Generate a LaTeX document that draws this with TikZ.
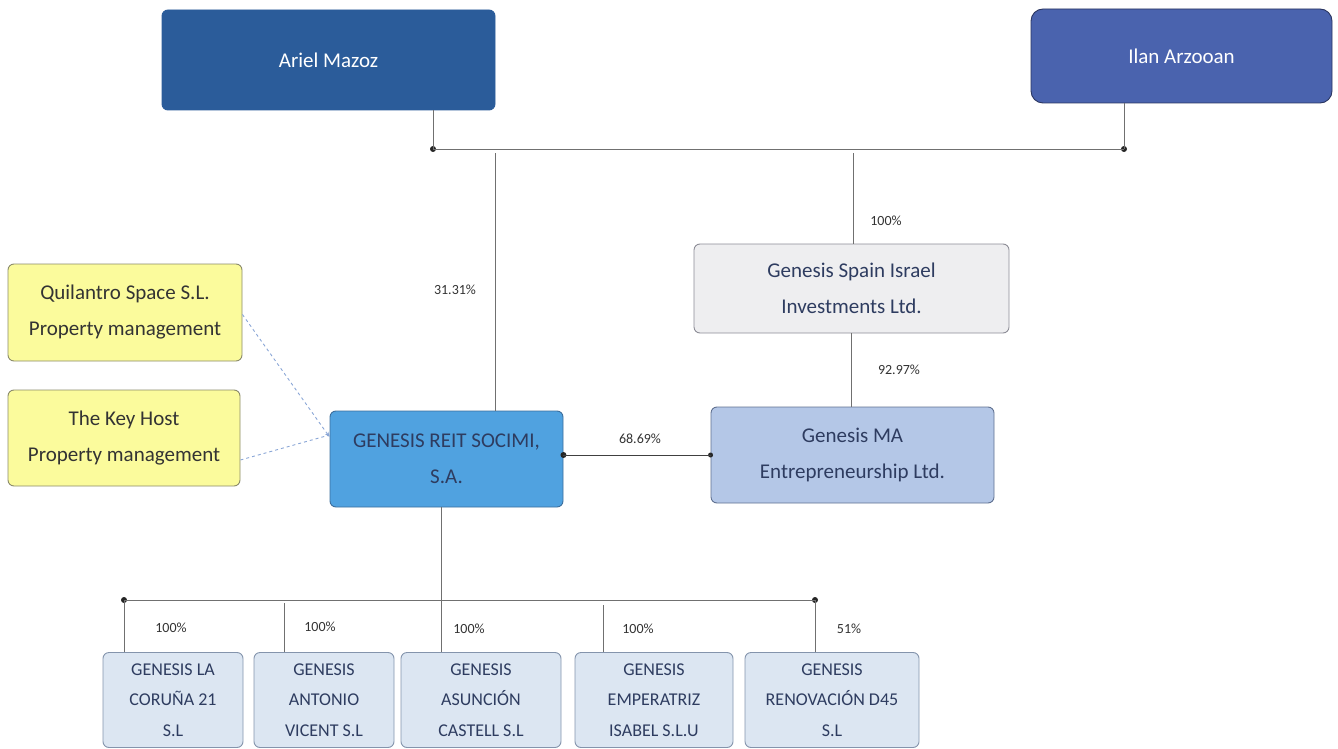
\documentclass[tikz,border=0pt]{standalone}
\usepackage{fontspec}
\setmainfont{Carlito}
\usetikzlibrary{arrows.meta}
\definecolor{arielfill}{HTML}{2B5C9A}
\definecolor{ilanfill}{HTML}{4A63AE}
\definecolor{ilanline}{HTML}{2A3560}
\definecolor{spainfill}{HTML}{EEEEF0}
\definecolor{spainline}{HTML}{8C8C96}
\definecolor{mafill}{HTML}{B4C7E7}
\definecolor{maline}{HTML}{5F7090}
\definecolor{reitfill}{HTML}{50A2E0}
\definecolor{reitline}{HTML}{3C6E9C}
\definecolor{yelfill}{HTML}{FBFB9C}
\definecolor{yelline}{HTML}{8A8A6A}
\definecolor{kidfill}{HTML}{DCE6F2}
\definecolor{kidline}{HTML}{8494AC}
\definecolor{navytext}{HTML}{2E3C60}
\definecolor{conn}{HTML}{707070}
\definecolor{dashc}{HTML}{8AA6D6}
\tikzset{
  box/.style={draw, rounded corners=6pt, align=center, inner sep=0pt, line width=0.9pt, font=\fontsize{21}{36}\selectfont},
  person/.style={box, text=white},
  kid/.style={box, fill=kidfill, draw=kidline, text=navytext, minimum width=140pt, minimum height=95pt, font=\fontsize{18}{30.5}\selectfont},
  lbl/.style={font=\fontsize{14}{16}\selectfont, text=black!80, inner sep=0pt},
  conline/.style={draw=conn, line width=1pt},
  dot/.style={circle, fill=black!85, inner sep=0pt, minimum size=6pt},
}
\begin{document}
\begin{tikzpicture}[x=1pt,y=-1pt]
\useasboundingbox (0,0) rectangle (1338,749);
% top persons
\node[person, fill=arielfill, draw=arielfill, minimum width=333pt, minimum height=100pt, rounded corners=6pt] (ariel) at (328.5,60) {Ariel Mazoz};
\node[person, fill=ilanfill, draw=ilanline, minimum width=301pt, minimum height=94pt, rounded corners=12pt] (ilan) at (1181.5,56) {Ilan Arzooan};
% junctions
\coordinate (jA) at (433,149);
\coordinate (jI) at (1124,149);
\node[dot] (dA) at (jA) {};
\node[dot] (dI) at (jI) {};
% middle boxes
\node[box, fill=spainfill, draw=spainline, text=navytext, minimum width=315pt, minimum height=89pt] (spain) at (851.5,288.5) {Genesis Spain Israel\\Investments Ltd.};
\node[box, fill=mafill, draw=maline, text=navytext, minimum width=283pt, minimum height=96pt] (ma) at (852.5,455) {Genesis MA\\Entrepreneurship Ltd.};
\node[box, fill=reitfill, draw=reitline, text=navytext, minimum width=233pt, minimum height=96pt] (reit) at (446.5,459) {GENESIS REIT SOCIMI,\\S.A.};
% yellow boxes
\node[box, fill=yelfill, draw=yelline, text=black!80, minimum width=234pt, minimum height=97pt] (quil) at (125,312.5) {Quilantro Space S.L.\\Property management};
\node[box, fill=yelfill, draw=yelline, text=black!80, minimum width=232pt, minimum height=96pt] (key) at (124,438) {The Key Host\\Property management};
% children
\node[kid] (k1) at (173,700) {GENESIS LA\\CORUÑA 21\\S.L};
\node[kid] (k2) at (324,700) {GENESIS\\ANTONIO\\VICENT S.L};
\node[kid, minimum width=160pt] (k3) at (481,700) {GENESIS\\ASUNCIÓN\\CASTELL S.L};
\node[kid, minimum width=158pt] (k4) at (654,700) {GENESIS\\EMPERATRIZ\\ISABEL S.L.U};
\node[kid, minimum width=174pt] (k5) at (832,700) {GENESIS\\RENOVACIÓN D45\\S.L};
% top connectors
\draw[conline] (ariel.south -| jA) -- (dA.center);
\draw[conline] (ilan.south -| jI) -- (dI.center);
\draw[conline] (dA.center) -- (dI.center);
\draw[conline] (495,153) -- (reit.north -| 495,0);
\draw[conline] (853,153) -- (spain.north -| 853,0);
\draw[conline] (spain.south) -- (ma.north -| spain.south);
% MA to REIT
\node[dot] (dR) at (reit.east |- ma.west) {};
\node[dot, minimum size=5pt] (dM) at (ma.west) {};
\draw[conline, draw=black!75] (dM.center) -- (dR.center);
% dashed links
\draw[draw=dashc, dashed, line width=0.9pt, -{Stealth[length=5pt,width=4pt]}] (quil.east) ++(0,2) -- (reit.west |- 0,437);
\draw[draw=dashc, dashed, line width=0.9pt] (key.east) ++(0,22) -- (reit.west |- 0,435);
% bottom bus
\coordinate (bL) at (124,600);
\coordinate (bR) at (815,600);
\node[dot] (dL) at (bL) {};
\node[dot] (dRt) at (bR) {};
\draw[conline] (reit.south -| 441,0) -- (441,600);
\draw[conline] (dL.center) -- (dRt.center);
\draw[conline] (dL.center) -- (k1.north -| dL);
\draw[conline] (284,603) -- (k2.north -| 284,0);
\draw[conline] (441,600) -- (k3.north -| 441,0);
\draw[conline] (603,605) -- (k4.north -| 603,0);
\draw[conline] (dRt.center) -- (k5.north -| dRt);
% labels
\node[lbl] (l1) at (455,290) {31.31\%};
\node[lbl] (l2) at (886,221) {100\%};
\node[lbl] (l3) at (899,370) {92.97\%};
\node[lbl] (l4) at (640,439) {68.69\%};
\node[lbl] (l5) at (171,628) {100\%};
\node[lbl] (l6) at (320,627) {100\%};
\node[lbl] (l7) at (469,629) {100\%};
\node[lbl] (l8) at (638,629) {100\%};
\node[lbl] (l9) at (849,629) {51\%};
\end{tikzpicture}
\end{document}
